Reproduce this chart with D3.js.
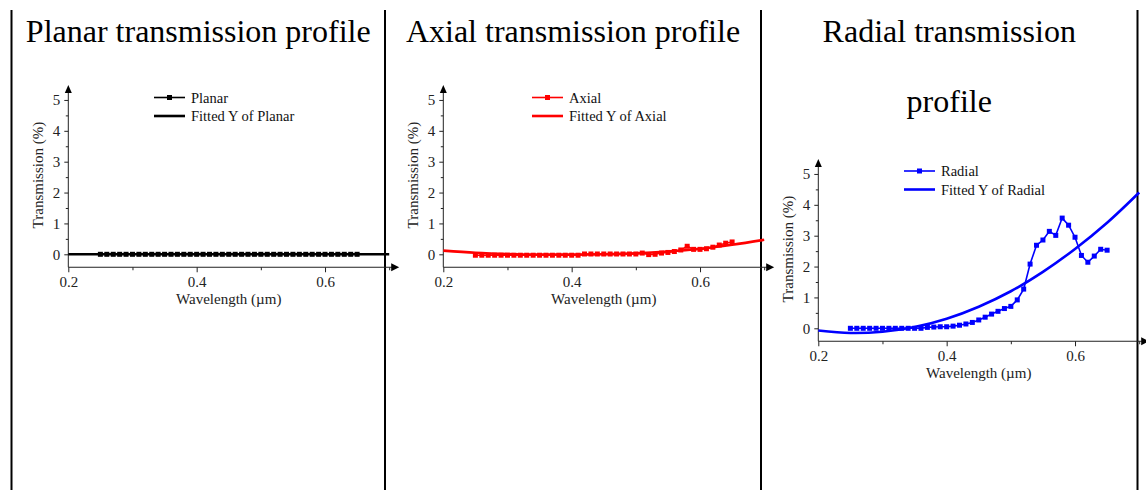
<!DOCTYPE html>
<html><head><meta charset="utf-8">
<script src="https://cdn.jsdelivr.net/npm/d3@7"></script>
<style>
body{margin:0;background:#fff}
svg{display:block}
text{font-family:"Liberation Serif","Times New Roman",serif}
</style>
</head><body>
<svg id="chart" width="1146" height="490"></svg>
<script>
// ---------- data ----------
const wavelengths = [0.25,0.26,0.27,0.28,0.29,0.30,0.31,0.32,0.33,0.34,0.35,0.36,0.37,0.38,0.39,0.40,0.41,0.42,0.43,0.44,0.45,0.46,0.47,0.48,0.49,0.50,0.51,0.52,0.53,0.54,0.55,0.56,0.57,0.58,0.59,0.60,0.61,0.62,0.63,0.64,0.65];
const planarT = [0,0,0,0,0,0,0,0,0,0,0,0,0,0,0,0,0,0,0,0,0,0,0,0,0,0,0,0,0,0,0,0,0,0,0,0,0,0,0,0,0];
const axialT = [-0.03,-0.03,-0.03,-0.03,-0.03,-0.03,-0.03,-0.03,-0.03,-0.03,-0.03,-0.03,-0.03,-0.03,-0.03,-0.03,-0.03,0.01,0.01,0.01,0.01,0.01,0.01,0.01,0.01,0.01,0.04,-0.01,0.0,0.04,0.06,0.09,0.14,0.26,0.16,0.16,0.18,0.23,0.30,0.36,0.40];
const radialT = [0,0,0,0,0,0,0,0,0,0,0,0,0.03,0.04,0.05,0.05,0.07,0.10,0.14,0.19,0.27,0.36,0.46,0.55,0.64,0.71,0.92,1.27,2.08,2.69,2.86,3.14,3.01,3.57,3.34,2.95,2.36,2.14,2.34,2.56,2.53];

const fitWavelengths = [0.20,0.25,0.30,0.35,0.40,0.45,0.50,0.55,0.60,0.65,0.70];
const planarFit = [0,0,0,0,0,0,0,0,0,0,0];
const axialFit = [0.12,0.05,0.01,-0.01,-0.01,0.0,0.03,0.09,0.18,0.31,0.47];
const radialFit = [-0.07,-0.15,-0.11,0.04,0.31,0.70,1.20,1.83,2.57,3.42,4.40];

const seriesNames = ["Planar","Axial","Radial"];
const seriesColors = ["#000000","#ff0000","#0000ff"];
const panelTitles = [["Planar transmission profile"],["Axial transmission profile"],["Radial transmission","profile"]];
const xTicks = [0.2,0.4,0.6];
const xMinorTicks = [0.3,0.5,0.7];
const yTicks = [0,1,2,3,4,5];
const yMinorTicks = [0.5,1.5,2.5,3.5,4.5];
const xLabel = "Wavelength (\u00b5m)";
const yLabel = "Transmission (%)";

const seriesData = [planarT, axialT, radialT];
const fitData = [planarFit, axialFit, radialFit];

// ---------- layout ----------
const svg = d3.select("#chart");
const borderX = [11.5, 385, 761, 1137.5];
const plotLeft = [68.3, 443.3, 818.3];
const zeroY = [254.3, 254.3, 328.3];
const legendX = [154, 532, 904];
const legendY = [97.5, 97.5, 171];
const plotW = 320.9, unitH = 30.87;
const axisCol = "#222";

// panel borders
svg.selectAll("line.border").data(borderX).join("line")
  .attr("class","border")
  .attr("x1",d=>d).attr("x2",d=>d).attr("y1",10).attr("y2",490)
  .attr("stroke","#000").attr("stroke-width",2);

// titles
panelTitles.forEach((lines,i)=>{
  const cx = (borderX[i]+borderX[i+1])/2;
  const t = svg.append("text").attr("x",cx).attr("y",42)
    .attr("text-anchor","middle").attr("font-size",32).attr("fill","#000");
  lines.forEach((ln,j)=>{
    t.append("tspan").attr("x",cx).attr("y",42+j*70).text(ln);
  });
});

seriesNames.forEach((name,i)=>{
  const x = d3.scaleLinear().domain([0.2,0.7]).range([plotLeft[i], plotLeft[i]+plotW]);
  const y = d3.scaleLinear().domain([0,5]).range([zeroY[i], zeroY[i]-5*unitH]);
  const g = svg.append("g");
  const axisY = y(-0.42);
  const color = seriesColors[i];

  // x axis
  const gx = g.append("g").attr("transform",`translate(0,${axisY})`);
  gx.call(d3.axisBottom(x).tickValues(xTicks).tickSize(5).tickPadding(4).tickFormat(d3.format(".1f")));
  gx.append("g").call(d3.axisBottom(x).tickValues(xMinorTicks).tickSize(3).tickFormat(""));
  gx.selectAll(".domain").remove();
  gx.selectAll("line").attr("stroke",axisCol);
  gx.selectAll("text").attr("font-size",15).attr("fill",axisCol).attr("font-family","Liberation Serif");
  g.append("line").attr("x1",x(0.2)).attr("x2",x(0.7)+4).attr("y1",axisY).attr("y2",axisY)
    .attr("stroke",axisCol).attr("stroke-width",1);
  const ax = x(0.7)+10;
  g.append("path").attr("d",`M${ax},${axisY} L${ax-8},${axisY-4} L${ax-8},${axisY+4} Z`).attr("fill","#000");

  // y axis
  const gy = g.append("g").attr("transform",`translate(${x(0.2)},0)`);
  gy.call(d3.axisLeft(y).tickValues(yTicks).tickSize(4).tickPadding(4).tickFormat(d3.format("d")));
  gy.append("g").call(d3.axisLeft(y).tickValues(yMinorTicks).tickSize(2.5).tickFormat(""));
  gy.selectAll(".domain").remove();
  gy.selectAll("line").attr("stroke",axisCol);
  gy.selectAll("text").attr("font-size",15).attr("fill",axisCol).attr("font-family","Liberation Serif");
  const yTop = y(5)-15;
  g.append("line").attr("x1",x(0.2)).attr("x2",x(0.2)).attr("y1",axisY).attr("y2",yTop+6)
    .attr("stroke",axisCol).attr("stroke-width",1);
  g.append("path").attr("d",`M${x(0.2)},${yTop} L${x(0.2)-3.5},${yTop+8} L${x(0.2)+3.5},${yTop+8} Z`).attr("fill","#000");

  // axis titles
  g.append("text").attr("x",x(0.45)).attr("y",axisY+37).attr("text-anchor","middle")
    .attr("font-size",15).attr("fill",axisCol).text(xLabel);
  g.append("text").attr("transform",`translate(${x(0.2)-25},${(y(0)+y(5))/2 - 2}) rotate(-90)`)
    .attr("text-anchor","middle").attr("font-size",15).attr("fill",axisCol).text(yLabel);

  // fitted curve
  const fitPts = fitWavelengths.map((w,k)=>[w, fitData[i][k]]);
  g.append("path").datum(fitPts)
    .attr("d", d3.line().x(d=>x(d[0])).y(d=>y(d[1])).curve(d3.curveCatmullRom))
    .attr("fill","none").attr("stroke",color).attr("stroke-width",2.6);

  // data series
  const pts = wavelengths.map((w,k)=>[w, seriesData[i][k]]);
  g.append("path").datum(pts)
    .attr("d", d3.line().x(d=>x(d[0])).y(d=>y(d[1])))
    .attr("fill","none").attr("stroke",color).attr("stroke-width",1.6);
  g.selectAll("rect.m").data(pts).join("rect").attr("class","m")
    .attr("x",d=>x(d[0])-2.5).attr("y",d=>y(d[1])-2.5).attr("width",5).attr("height",5)
    .attr("fill",color);

  // legend
  const lx = legendX[i], ly = legendY[i];
  g.append("line").attr("x1",lx).attr("x2",lx+31).attr("y1",ly).attr("y2",ly)
    .attr("stroke",color).attr("stroke-width",1.6);
  g.append("rect").attr("x",lx+15.5-2.5).attr("y",ly-2.5).attr("width",5).attr("height",5).attr("fill",color);
  g.append("text").attr("x",lx+37).attr("y",ly+5).attr("font-size",14.5).attr("fill","#111").text(name);
  g.append("line").attr("x1",lx).attr("x2",lx+31).attr("y1",ly+18.5).attr("y2",ly+18.5)
    .attr("stroke",color).attr("stroke-width",2.6);
  g.append("text").attr("x",lx+37).attr("y",ly+23.5).attr("font-size",14.5).attr("fill","#111").text("Fitted Y of " + name);
});
</script>
</body></html>
